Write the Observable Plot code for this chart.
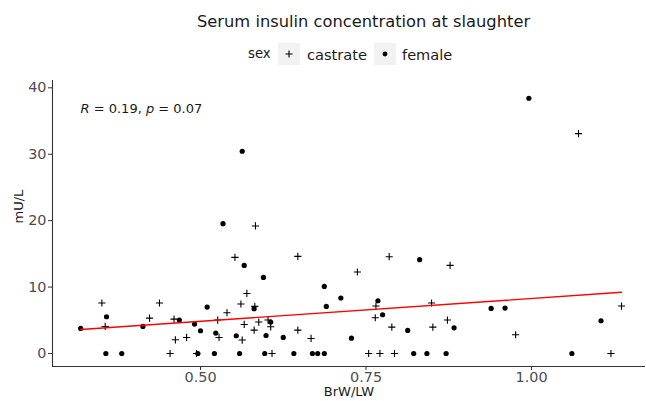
<!DOCTYPE html>
<html>
<head>
<meta charset="utf-8">
<script src="https://cdn.jsdelivr.net/npm/d3@7"></script>
<script src="https://cdn.jsdelivr.net/npm/@observablehq/plot@0.6"></script>
<style>
  body { margin: 0; background: #fff; font-family: "DejaVu Sans", sans-serif; }
  #wrap { position: relative; width: 646px; height: 401px; overflow: hidden; }
  .abs { position: absolute; white-space: nowrap; }
  .key { position: absolute; width: 22px; height: 22px; background: #f2f2f2; }
  #chart { position: absolute; left: 0; top: 75px; }
</style>
</head>
<body>
<div id="wrap">
  <div class="abs" id="title" style="left:197px; top:12px; font-size:16.3px; color:#1a1a1a;">Serum insulin concentration at slaughter</div>
  <div class="abs" style="left:248px; top:46px; font-size:13.3px; color:#1a1a1a;">sex</div>
  <div class="key" style="left:278px; top:43px;"><svg width="22" height="22"><path d="M7.5,11H14.5M11,7.5V14.5" stroke="#000" stroke-width="1.1" fill="none"/></svg></div>
  <div class="abs" style="left:307px; top:45.5px; font-size:14.6px; color:#1a1a1a;">castrate</div>
  <div class="key" style="left:374px; top:43px;"><svg width="22" height="22"><circle cx="11" cy="11" r="2.4" fill="#000"/></svg></div>
  <div class="abs" style="left:402px; top:45.5px; font-size:14.6px; color:#1a1a1a;">female</div>
  <div id="chart"></div>
</div>
<script>
// Data
const castrateX = [0.351,0.356,0.438,0.423,0.460,0.462,0.479,0.454,0.552,0.570,0.561,0.582,0.540,0.526,0.528,0.566,0.588,0.581,0.602,0.606,0.563,0.494,0.608,0.583,0.647,0.785,0.737,0.765,0.764,0.647,0.667,0.789,0.754,0.771,0.793,0.877,0.849,0.873,0.851,1.071,0.976,1.136,1.120];
const castrateY = [7.6,4.07,7.6,5.33,5.18,2.06,2.41,0,14.47,9.04,7.45,7.09,6.13,5.03,2.41,4.37,4.73,3.52,5.03,4.02,2.02,0,0,19.2,14.62,14.57,12.27,7.14,5.38,3.52,2.26,3.97,0,0,0,13.26,7.6,5.03,3.97,33.1,2.82,7.14,0];
const femaleX = [0.319,0.358,0.357,0.381,0.413,0.468,0.566,0.595,0.581,0.510,0.491,0.500,0.523,0.606,0.554,0.599,0.625,0.496,0.521,0.559,0.597,0.641,0.563,0.534,0.687,0.712,0.690,0.768,0.775,0.728,0.669,0.677,0.687,0.831,0.939,0.960,0.883,0.813,0.822,0.842,0.871,0.996,1.105,1.061];
const femaleY = [3.77,5.53,0,0,4.07,5.03,13.26,11.45,6.74,6.99,4.43,3.42,3.07,4.73,2.67,2.71,2.41,0,0,0,0,0,30.45,19.55,10.1,8.35,7.09,7.94,5.83,2.31,0,0,0,14.12,6.78,6.84,3.87,3.47,0,0,0,38.43,4.93,0];
const xTicks = [0.5, 0.75, 1.0];
const yTicks = [0, 10, 20, 30, 40];
const corLabel = "R = 0.19, p = 0.07";

const castrate = castrateX.map((x, i) => ({x, y: castrateY[i], sex: "castrate"}));
const female = femaleX.map((x, i) => ({x, y: femaleY[i], sex: "female"}));
const all = castrate.concat(female);

const plusSymbol = {
  draw(ctx, size) {
    const h = Math.sqrt(size / Math.PI);
    ctx.moveTo(-h, 0); ctx.lineTo(h, 0);
    ctx.moveTo(0, -h); ctx.lineTo(0, h);
  }
};

const xDom = [0.2764, 1.1722];
const yDom = [-1.96, 41.1];

const chart = Plot.plot({
  width: 646,
  height: 326,
  marginLeft: 52,
  marginRight: 1,
  marginTop: 5,
  marginBottom: 35,
  style: { fontFamily: "DejaVu Sans, sans-serif", background: "transparent" },
  x: { domain: xDom },
  y: { domain: yDom },
  marks: [
    Plot.axisX({ ticks: xTicks, tickFormat: d3.format(".2f"), tickSize: 4, tickPadding: 1, fontSize: 14.4, fill: "#4d4d4d", stroke: "#333", label: null }),
    Plot.axisY({ ticks: yTicks, tickSize: 4, tickPadding: 2, fontSize: 14.4, fill: "#4d4d4d", stroke: "#333", label: null }),
    Plot.ruleX([xDom[0]], { stroke: "#333", strokeWidth: 1.1 }),
    Plot.ruleY([yDom[0]], { stroke: "#333", strokeWidth: 1.1 }),
    Plot.text(["BrW/LW"], { frameAnchor: "bottom", dy: 29, fontSize: 13, fill: "#1a1a1a" }),
    Plot.text(["mU/L"], { frameAnchor: "left", dx: -34, rotate: -90, fontSize: 13, fill: "#1a1a1a" }),
    Plot.dot(castrate, { x: "x", y: "y", symbol: plusSymbol, r: 3.6, stroke: "#000", strokeWidth: 1.1, fill: "none" }),
    Plot.dot(female, { x: "x", y: "y", r: 2.6, fill: "#000", stroke: "none" }),
    Plot.linearRegressionY(all, { x: "x", y: "y", stroke: "#ff0000", strokeWidth: 1.4, ci: 0 }),
    Plot.text([corLabel], { frameAnchor: "top-left", dx: 28, dy: 28, textAnchor: "start", lineAnchor: "middle", fontSize: 13, fill: "#1a1a1a" })
  ]
});
document.getElementById("chart").appendChild(chart);

// italicise R and p in the correlation label
chart.querySelectorAll("text").forEach(t => {
  if (t.textContent === corLabel) {
    t.innerHTML = '<tspan font-style="italic">R</tspan> = 0.19, <tspan font-style="italic">p</tspan> = 0.07';
  }
});
</script>
</body>
</html>
